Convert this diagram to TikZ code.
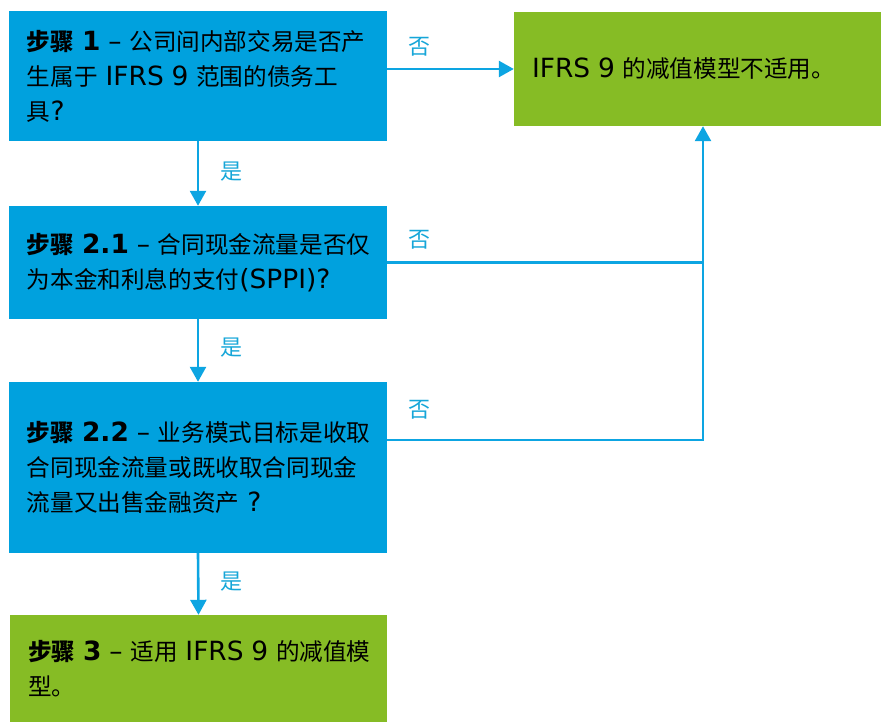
\documentclass[tikz,border=0pt]{standalone}
\usepackage{fontspec}
\setmainfont{Noto Sans CJK SC}
\newfontfamily\lat[Scale=1.12]{DejaVu Sans}
\usetikzlibrary{arrows.meta}
\definecolor{dblue}{HTML}{00A1DE}
\definecolor{dgreen}{HTML}{86BC25}
\definecolor{lblue}{HTML}{0DA5E2}
\definecolor{labc}{HTML}{16A6D8}
\tikzset{
  stepbox/.style={rectangle, inner xsep=18pt, inner ysep=0pt, align=left,
    font=\fontsize{23.6}{35}\selectfont, text=black},
  bluebox/.style={stepbox, fill=dblue},
  greenbox/.style={stepbox, fill=dgreen},
  conn/.style={draw=lblue, line width=2.6pt, -{Triangle[length=15pt,width=16pt]}},
  plain/.style={draw=lblue, line width=2.6pt},
  lab/.style={text=labc, font=\fontsize{22}{22}\selectfont, inner sep=0pt}
}
\newcommand{\bstep}[1]{\textbf{步骤 {\lat #1}}}
\hbadness=10000 \hfuzz=100pt
\begin{document}
\begin{tikzpicture}[x=1pt,y=-1pt]
\useasboundingbox (0,0) rectangle (881,722);
\node[bluebox, text width=342pt, minimum width=378pt, minimum height=130pt] (s1) at (198,76)
  {\mbox{\bstep{1} {\lat –} 公司间内部交易是否产}\\\mbox{生属于 {\lat IFRS 9} 范围的债务工}\\具{\lat ?}};
\node[greenbox, text width=331pt, minimum width=367pt, minimum height=114pt] (g1) at (697.5,69)
  {\mbox{{\lat IFRS 9} 的减值模型不适用。}};
\node[bluebox, text width=342pt, minimum width=378pt, minimum height=113pt] (s2) at (198,262.5)
  {\mbox{\bstep{2.1} {\lat –} 合同现金流量是否仅}\\\mbox{为本金和利息的支付{\lat (SPPI)?}}};
\node[bluebox, text width=342pt, minimum width=378pt, minimum height=171pt] (s3) at (198,467.5)
  {\mbox{\bstep{2.2} {\lat –} 业务模式目标是收取}\\\mbox{合同现金流量或既收取合同现金}\\\mbox{流量又出售金融资产 {\lat ?}}};
\node[greenbox, text width=341pt, minimum width=377pt, minimum height=107pt] (s4) at (198.5,668.5)
  {\mbox{\bstep{3} {\lat –} 适用 {\lat IFRS 9} 的减值模}\\型。};
\coordinate (j1) at (703,262.5);
\coordinate (j2) at (703,440);
\draw[conn] (s1.south) -- (s2.north);
\draw[conn] (s2.south) -- (s3.north);
\draw[conn] (s3.south) -- (s4.north);
\draw[conn] (s1.east |- g1.west) -- (g1.west);
\draw[plain] (s2.east) -- (j1);
\draw[conn] (s3.east |- j2) -- (j2) -- (g1.south -| j2);
\node[lab] (y1) at (231,172) {是};
\node[lab] (y2) at (231,348) {是};
\node[lab] (y3) at (231,582) {是};
\node[lab] (n1) at (419,47) {否};
\node[lab] (n2) at (419,240) {否};
\node[lab] (n3) at (419,410) {否};
\end{tikzpicture}
\end{document}
